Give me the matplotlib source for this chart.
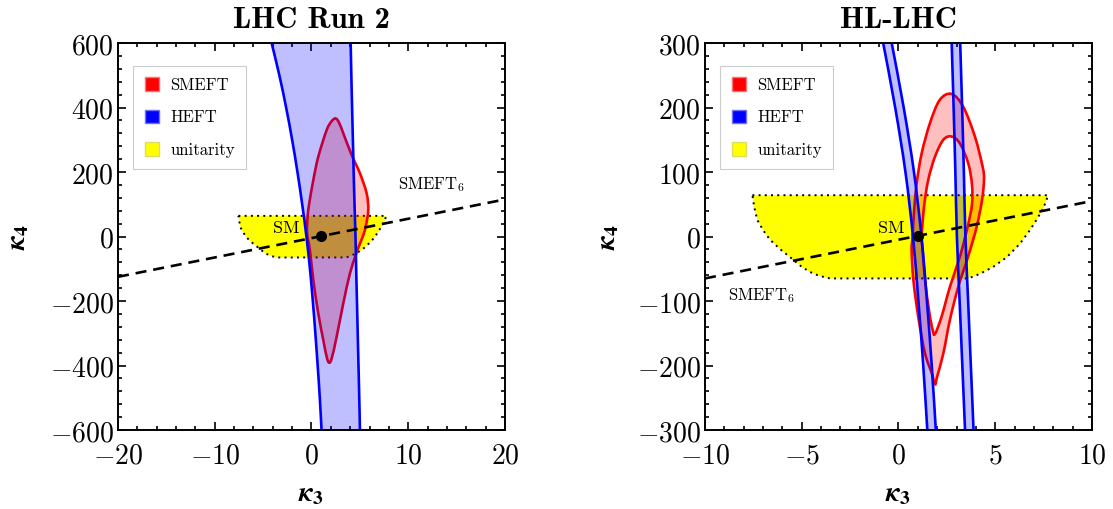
import numpy as np
import matplotlib.pyplot as plt
from matplotlib.patches import Patch, PathPatch
from matplotlib.path import Path
from matplotlib.ticker import MultipleLocator

plt.rcParams['mathtext.fontset'] = 'cm'

# unitarity region boundary (kappa3, kappa4), same in both panels
uni_k3 = [-7.55, 7.74, 7.5, 7.14, 6.75, 6.28, 5.6, 4.9, 4.2, 3.61,
          -3.54, -4.1, -4.57, -5.0, -5.44, -6.1, -6.64, -7.0, -7.3, -7.45]
uni_k4 = [64, 64, 45, 26, 8, -11, -32, -47, -58, -65,
          -65, -61, -55, -47, -36, -20, -5, 10, 26, 45]

# SM point
sm_k3, sm_k4 = 1, 1

# ---- LHC Run 2 ----
run2_heft_k4 = [600, 500, 400, 300, 200, 100, 0, -100, -200, -300, -400, -500, -600]
run2_heft_lo = [-4.12, -3.32, -2.62, -2.00, -1.45, -0.96, -0.52, -0.16, 0.14, 0.40, 0.64, 0.86, 1.04]
run2_heft_hi = [4.05, 4.12, 4.2, 4.28, 4.36, 4.45, 4.55, 4.62, 4.7, 4.78, 4.86, 4.94, 5.01]

run2_smeft_k3 = [2.53, 2.9, 3.29, 4.15, 5.01, 5.7, 5.87, 5.6, 5.3, 4.9, 4.55, 3.98, 3.29, 2.6,
                 2.09, 1.81, 1.57, 1.22, 0.70, 0.19, -0.16, -0.45, -0.4, -0.23, 0.19,
                 0.70, 1.57, 2.1]
run2_smeft_k4 = [366, 350, 320, 253, 196, 134, 82, 30, 0, -30, -60, -114, -207, -311,
                 -378, -391, -373, -321, -238, -135, -42, 10, 61, 103, 175,
                 247, 330, 358]

run2_smeft6_k3 = [-20, 20]
run2_smeft6_k4 = [-125, 115]

# ---- HL-LHC ----
hl_heft_k4 = [300, 200, 100, 0, -100, -200, -300]
hl_heftA_lo = [-0.79, -0.17, 0.36, 0.75, 1.03, 1.28, 1.49]
hl_heftA_hi = [-0.35, 0.27, 0.80, 1.19, 1.47, 1.72, 1.93]
hl_heftB_lo = [2.75, 2.85, 2.94, 3.02, 3.16, 3.30, 3.44]
hl_heftB_hi = [3.19, 3.29, 3.38, 3.46, 3.60, 3.74, 3.88]

hl_outer_k3 = [2.75, 3.35, 3.95, 4.35, 4.42, 4.32, 4.04, 3.6, 3.09, 2.66, 2.32, 2.0,
               1.89, 1.72, 1.37, 1.02, 0.77, 0.68, 0.73, 0.80, 0.94, 1.2, 1.63, 2.14]
hl_outer_k4 = [221, 201, 155, 108, 88, 57, 15, -31, -78, -129, -181, -217,
               -229, -212, -181, -124, -67, -21, 0, 36, 82, 129, 176, 212]
hl_inner_k3 = [2.75, 3.18, 3.61, 3.8, 3.8, 3.6, 3.45, 3.18, 2.66, 2.23, 1.89,
               1.77, 1.6, 1.37, 1.25, 1.2, 1.32, 1.54, 1.89, 2.32]
hl_inner_k4 = [155, 144, 113, 80, 50, 18, 0, -31, -78, -124, -151,
               -145, -119, -67, -21, 0, 46, 88, 124, 150]

hl_smeft6_k3 = [-10, 10]
hl_smeft6_k4 = [-65, 55]

YELLOW = (1, 1, 0)
RED = (1, 0, 0)
BLUE = (0, 0, 1)
LW = 1.9


def curve(xs, ys, closed):
    # cubic Bezier path through the read points (Catmull-Rom handles)
    p = np.column_stack([xs, ys]).astype(float)
    n = len(p)
    if closed:
        idx = lambda i: p[i % n]
        segs = n
    else:
        idx = lambda i: p[min(max(i, 0), n - 1)]
        segs = n - 1
    verts = [p[0]]
    codes = [Path.MOVETO]
    for i in range(segs):
        p0, p1, p2, p3 = idx(i - 1), idx(i), idx(i + 1), idx(i + 2)
        verts += [p1 + (p2 - p0) / 6, p2 - (p3 - p1) / 6, p2]
        codes += [Path.CURVE4] * 3
    return np.array(verts), codes


def closed_path(*loops):
    verts, codes = [], []
    for xs, ys in loops:
        v, c = curve(xs, ys, True)
        verts += list(v)
        codes += c
        verts.append(v[0])
        codes.append(Path.CLOSEPOLY)
    return Path(verts, codes)


def line_patch(ax, xs, ys, closed, color, z):
    v, c = curve(xs, ys, closed)
    ax.add_patch(PathPatch(Path(v, c), facecolor='none', edgecolor=color, lw=LW, zorder=z))


def draw_unitarity(ax):
    ax.fill(uni_k3, uni_k4, color=YELLOW, lw=0, zorder=1)
    ax.plot(uni_k3 + uni_k3[:1], uni_k4 + uni_k4[:1], color='black',
            lw=1.4, ls=(0, (1, 2.2)), zorder=1.5)


def draw_band(ax, k4, lo, hi):
    v1, c1 = curve(lo, k4, False)
    v2, c2 = curve(hi[::-1], k4[::-1], False)
    verts = list(v1) + list(v2) + [v1[0]]
    codes = c1 + [Path.LINETO] + c2[1:] + [Path.CLOSEPOLY]
    ax.add_patch(PathPatch(Path(verts, codes), facecolor=BLUE, alpha=0.25, lw=0, zorder=4))
    line_patch(ax, lo, k4, False, BLUE, 5)
    line_patch(ax, hi, k4, False, BLUE, 5)


def style(ax, xlim, ylim, xmaj, xmin, ymaj, ymin, title, ylab_x):
    ax.set_xlim(xlim)
    ax.set_ylim(ylim)
    xt = np.arange(xlim[0], xlim[1] + 1, xmaj)
    yt = np.arange(ylim[0], ylim[1] + 1, ymaj)
    ax.set_xticks(xt)
    ax.set_xticklabels(['$%d$' % v for v in xt])
    ax.set_yticks(yt)
    ax.set_yticklabels(['$%d$' % v for v in yt])
    ax.xaxis.set_minor_locator(MultipleLocator(xmin))
    ax.yaxis.set_minor_locator(MultipleLocator(ymin))
    ax.tick_params(which='both', direction='in', top=True, right=True, width=1.2)
    ax.tick_params(which='major', length=6, labelsize=20)
    ax.tick_params(which='minor', length=3)
    ax.tick_params(axis='x', pad=8)
    ax.tick_params(axis='y', pad=3)
    for s in ax.spines.values():
        s.set_linewidth(1.4)
        s.set_zorder(10)
    ax.set_title(title, fontfamily='cmb10', fontsize=22, pad=11)
    ax.set_xlabel(r'$\boldsymbol{\kappa}_{\mathbf{3}}$', math_fontfamily='stix',
                  fontsize=20, va='center')
    ax.set_ylabel(r'$\boldsymbol{\kappa}_{\mathbf{4}}$', math_fontfamily='stix',
                  fontsize=20, va='center')
    ax.xaxis.set_label_coords(0.5, -0.165)
    ax.yaxis.set_label_coords(ylab_x, 0.5)
    handles = [Patch(facecolor=RED, edgecolor='#ff7070', label='SMEFT'),
               Patch(facecolor=BLUE, edgecolor='#7070ff', label='HEFT'),
               Patch(facecolor=YELLOW, edgecolor='#dddd60', label='unitarity')]
    leg = ax.legend(handles=handles, loc='upper left', bbox_to_anchor=(0.0395, 0.9406),
                    prop={'family': 'cmr10', 'size': 12}, handlelength=0.85,
                    handleheight=0.85, handletextpad=0.7, labelspacing=1.03,
                    borderpad=0.68, fancybox=False, edgecolor='#cccccc',
                    framealpha=1, borderaxespad=0)
    leg.get_frame().set_linewidth(0.8)
    leg.set_zorder(12)


fig = plt.figure(figsize=(11.13, 5.09), dpi=100)
ax1 = fig.add_axes([0.1060, 0.1552, 0.3477, 0.7603])
ax2 = fig.add_axes([0.6334, 0.1552, 0.3477, 0.7603])

# left panel
draw_unitarity(ax1)
ax1.add_patch(PathPatch(closed_path((run2_smeft_k3, run2_smeft_k4)),
                        facecolor=RED, alpha=0.25, lw=0, zorder=2))
line_patch(ax1, run2_smeft_k3, run2_smeft_k4, True, RED, 3)
draw_band(ax1, run2_heft_k4, run2_heft_lo, run2_heft_hi)
ax1.plot(run2_smeft6_k3, run2_smeft6_k4, color='black', lw=1.9, ls=(0, (4.2, 2.6)), zorder=6)
ax1.plot([sm_k3], [sm_k4], 'o', color='black', ms=7, zorder=7)
ax1.text(-2.57, 25, 'SM', fontfamily='cmr10', fontsize=13, ha='center', va='center', zorder=8)
ax1.text(12.4, 160, r'$\mathrm{SMEFT}_6$', fontsize=12, ha='center', va='center', zorder=8)
style(ax1, (-20, 20), (-600, 600), 10, 2, 200, 40, 'LHC Run 2', -0.26)

# right panel
draw_unitarity(ax2)
ring = closed_path((hl_outer_k3, hl_outer_k4), (hl_inner_k3[::-1], hl_inner_k4[::-1]))
ax2.add_patch(PathPatch(ring, facecolor=RED, alpha=0.25, lw=0, zorder=2))
line_patch(ax2, hl_outer_k3, hl_outer_k4, True, RED, 3)
line_patch(ax2, hl_inner_k3, hl_inner_k4, True, RED, 3)
draw_band(ax2, hl_heft_k4, hl_heftA_lo, hl_heftA_hi)
draw_band(ax2, hl_heft_k4, hl_heftB_lo, hl_heftB_hi)
ax2.plot(hl_smeft6_k3, hl_smeft6_k4, color='black', lw=1.9, ls=(0, (4.2, 2.6)), zorder=6)
ax2.plot([sm_k3], [sm_k4], 'o', color='black', ms=7, zorder=7)
ax2.text(-0.35, 13, 'SM', fontfamily='cmr10', fontsize=13, ha='center', va='center', zorder=8)
ax2.text(-7.07, -92, r'$\mathrm{SMEFT}_6$', fontsize=12, ha='center', va='center', zorder=8)
style(ax2, (-10, 10), (-300, 300), 5, 1, 100, 20, 'HL-LHC', -0.253)

fig.savefig('out.png', dpi=100)
